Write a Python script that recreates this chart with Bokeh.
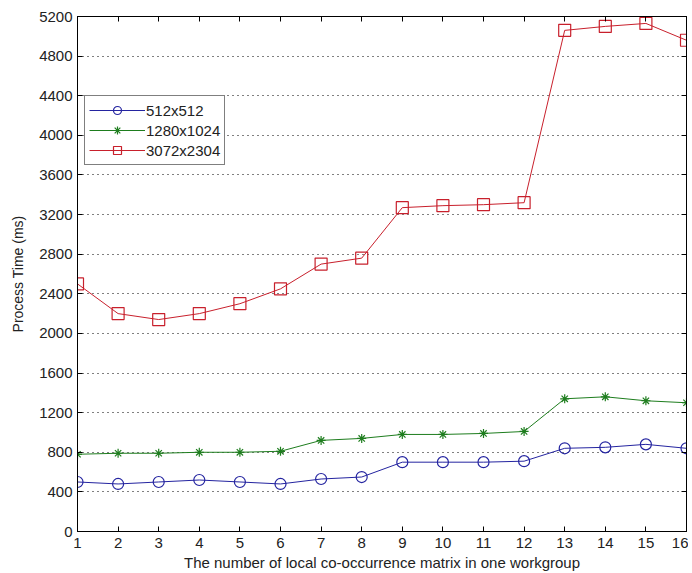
from bokeh.plotting import figure
from bokeh.models import LinearAxis, Legend, LegendItem, FixedTicker, Range1d
from bokeh.embed import file_html
from bokeh.resources import INLINE

x = list(range(1, 17))
s512 = [500, 480, 500, 520, 500, 480, 530, 550, 700, 700, 700, 710, 840, 850, 880, 840]
s1280 = [780, 790, 790, 800, 800, 810, 920, 940, 980, 980, 990, 1010, 1340, 1360, 1320, 1300]
s3072 = [2500, 2200, 2140, 2200, 2300, 2450, 2700, 2760, 3270, 3290, 3300, 3320, 5060, 5100, 5130, 4960]
labels = ["512x512", "1280x1024", "3072x2304"]
yticks = list(range(0, 5201, 400))

FONT = "Liberation Sans"
BLUE, GREEN, RED = "#2424a0", "#1e7d1e", "#c8202c"

p = figure(width=688, height=573, output_backend="svg", toolbar_location=None,
           x_range=Range1d(1, 16), y_range=Range1d(0, 5200),
           min_border_left=77, min_border_top=16, min_border_right=2, min_border_bottom=40)
p.outline_line_color = "black"
p.outline_line_width = 1
p.xgrid.visible = False
p.ygrid.grid_line_color = "black"
p.ygrid.grid_line_dash = "1 4"
p.ygrid.grid_line_width = 1
p.ygrid.ticker = FixedTicker(ticks=yticks)

for ax in p.xaxis:
    ax.ticker = FixedTicker(ticks=x)
for ax in p.yaxis:
    ax.ticker = FixedTicker(ticks=yticks)

for ax in list(p.xaxis) + list(p.yaxis):
    ax.major_tick_in = 5
    ax.major_tick_out = 0
    ax.minor_tick_in = 0
    ax.minor_tick_out = 0
    ax.axis_line_color = "black"
    ax.major_tick_line_color = "black"
    ax.major_label_text_font = FONT
    ax.major_label_text_font_size = "15px"
    ax.major_label_text_color = "#222222"
    ax.axis_label_text_font = FONT
    ax.axis_label_text_font_size = "14px"
    ax.axis_label_text_font_style = "normal"
    ax.axis_label_text_color = "#222222"

p.xaxis.axis_label = "The number of local co-occurrence matrix in one workgroup"
p.yaxis.axis_label = "Process Time (ms)"
p.xaxis.axis_label_text_font_size = "15px"
p.xaxis.major_label_standoff = 6
p.xaxis.axis_label_standoff = 3
p.yaxis.major_label_standoff = 5
p.yaxis.axis_label_standoff = 10

top = LinearAxis(ticker=FixedTicker(ticks=x), major_tick_in=5, major_tick_out=0,
                 minor_tick_in=0, minor_tick_out=0, major_label_text_font_size="0px",
                 major_label_text_alpha=0)
right = LinearAxis(ticker=FixedTicker(ticks=yticks), major_tick_in=5, major_tick_out=0,
                   minor_tick_in=0, minor_tick_out=0, major_label_text_font_size="0px",
                   major_label_text_alpha=0)
p.add_layout(top, "above")
p.add_layout(right, "right")
p.min_border_right = 2
p.min_border_top = 16

items = []
specs = [(s512, BLUE, "circle", 11, 8), (s1280, GREEN, "asterisk", 9, 7), (s3072, RED, "square", 12, 10)]
for (ys, col, mk, sz, lsz), lab in zip(specs, labels):
    p.line(x, ys, line_color=col, line_width=1)
    p.scatter(x, ys, marker=mk, size=sz, line_color=col, fill_color=None, line_width=1.2)
    # legend-only proxies (single NaN row, nothing drawn) with smaller legend markers
    ln = p.line(x[:1], [float("nan")], line_color=col, line_width=1)
    sc = p.scatter(x[:1], [float("nan")], marker=mk, size=lsz, line_color=col,
                   fill_color=None, line_width=1.2)
    items.append(LegendItem(label=lab, renderers=[ln, sc]))

leg = Legend(items=items, location=(7, 366), orientation="vertical")
leg.border_line_color = "black"
leg.border_line_width = 1
leg.background_fill_color = "white"
leg.background_fill_alpha = 1
leg.label_text_font = FONT
leg.label_text_font_size = "15px"
leg.label_text_color = "#222222"
leg.glyph_width = 56
leg.glyph_height = 20
leg.label_height = 20
leg.spacing = 0
leg.padding = 4
leg.margin = 0
leg.label_standoff = 1
p.add_layout(leg, "center")

open("out.html", "w").write(file_html(p, INLINE))
